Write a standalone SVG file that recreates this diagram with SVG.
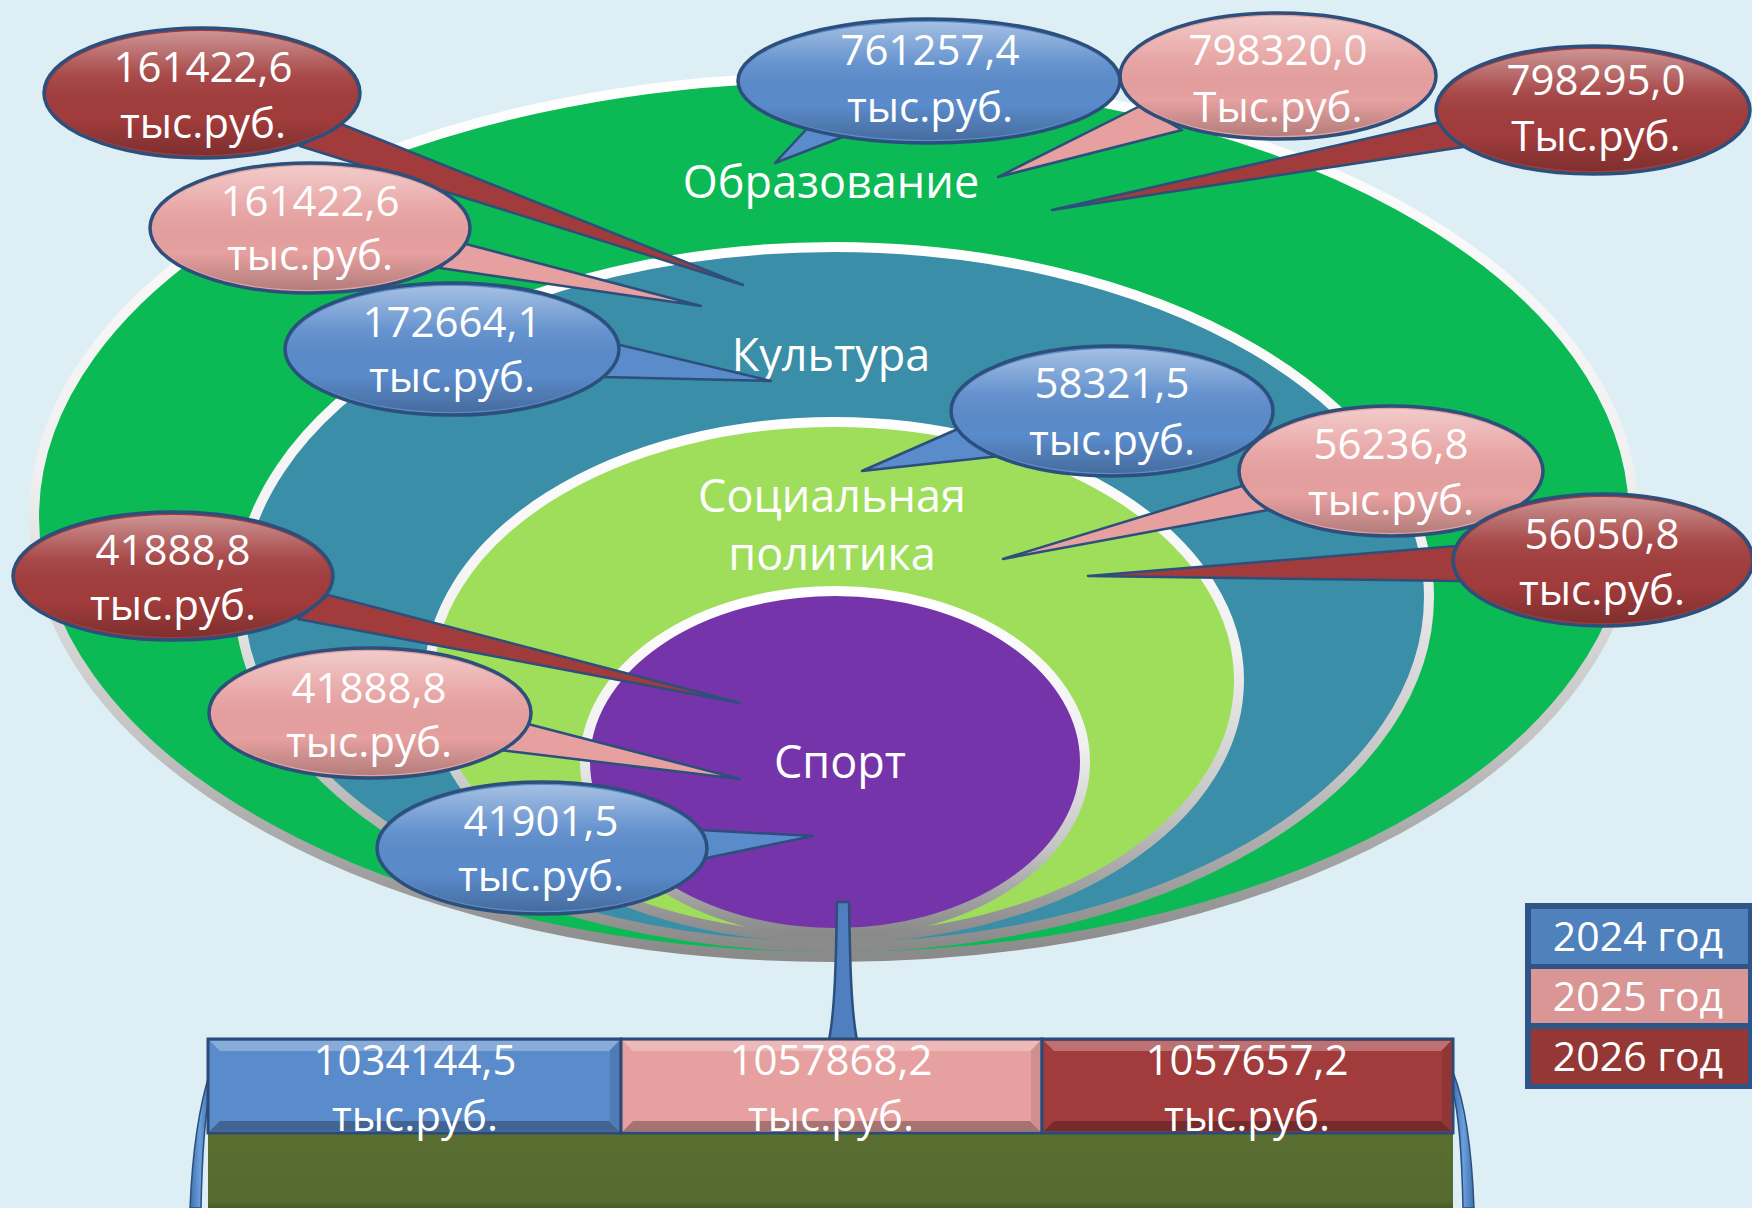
<svg xmlns="http://www.w3.org/2000/svg" width="1752" height="1208" viewBox="0 0 1752 1208">
<defs>
<style>
.t{font-family:"Open Sans","Noto Sans",sans-serif;fill:#ffffff;text-anchor:middle;font-size:42px}
.lbl{font-size:45px}
.leg{font-size:41px}
.rim{stroke:url(#rimg);stroke-width:10}
.bs{stroke:#2C4F7C;stroke-width:3.5}
.blue{fill:#5A8BCB}
.pink{fill:#E6A09F}
.red{fill:#A23C3C}
.tail{stroke:#2C4F7C;stroke-width:2.5;stroke-linejoin:round}
.hl{fill:url(#hlg)}
.box{stroke:#2B4A75;stroke-width:3}
.bevT{fill:#ffffff;fill-opacity:0.28}
.bevB{fill:#000000;fill-opacity:0.28}
.bevS{fill:#000000;fill-opacity:0.1}
</style>
<linearGradient id="rimg" x1="0" y1="0" x2="0" y2="1">
<stop offset="0" stop-color="#ffffff"/>
<stop offset="0.45" stop-color="#f0f0f0"/>
<stop offset="0.75" stop-color="#c4c4c4"/>
<stop offset="1" stop-color="#8a8a8a"/>
</linearGradient>
<linearGradient id="hlg" x1="0" y1="0" x2="0" y2="1">
<stop offset="0" stop-color="#ffffff" stop-opacity="0.45"/>
<stop offset="0.35" stop-color="#ffffff" stop-opacity="0.08"/>
<stop offset="0.7" stop-color="#000000" stop-opacity="0"/>
<stop offset="1" stop-color="#000000" stop-opacity="0.22"/>
</linearGradient>
<linearGradient id="oliveg" x1="0" y1="0" x2="0" y2="1">
<stop offset="0" stop-color="#5A6E32"/>
<stop offset="0.85" stop-color="#566A2F"/>
<stop offset="1" stop-color="#3E4E20"/>
</linearGradient>
<linearGradient id="sideg" x1="0" y1="0" x2="1" y2="0">
<stop offset="0" stop-color="#3F6FAE"/>
<stop offset="0.5" stop-color="#6A9EDC"/>
<stop offset="1" stop-color="#3F6FAE"/>
</linearGradient>
</defs>

<rect x="0" y="0" width="1752" height="1208" fill="#DDEEF4"/>

<g id="obrazovanie">
<ellipse cx="834" cy="517" rx="800" ry="440" fill="#0BB955" class="rim"/>
<text class="t lbl" x="831" y="198">Образование</text>
</g>
<g id="kultura">
<ellipse cx="834" cy="597" rx="595" ry="350" fill="#3A8EA7" class="rim"/>
<text class="t lbl" x="831" y="371">Культура</text>
</g>
<g id="socpolitika">
<ellipse cx="834" cy="680" rx="405" ry="258" fill="#9FDE5A" class="rim"/>
<text class="t lbl" x="832" y="512">Социальная</text>
<text class="t lbl" x="832" y="570">политика</text>
</g>
<g id="sport">
<ellipse cx="835" cy="762" rx="250" ry="171" fill="#7634AA" class="rim"/>
<text class="t lbl" x="840" y="778">Спорт</text>
</g>

<g id="connectors">
<polygon class="tail red" points="341,124 743,285 300,146"/>
<polygon class="tail pink" points="462,243 701,306 440,268"/>
<polygon class="tail blue" points="616,344 771,381 603,377"/>
<polygon class="tail blue" points="815,120 775,163 845,136"/>
<polygon class="tail pink" points="1140,106 998,177 1182,130"/>
<polygon class="tail red" points="1440,122 1052,210 1463,147"/>
<polygon class="tail blue" points="960,428 862,471 1000,456"/>
<polygon class="tail pink" points="1242,486 1003,559 1268,510"/>
<polygon class="tail red" points="1457,546 1088,576 1459,581"/>
<polygon class="tail red" points="328,595 740,703 298,619"/>
<polygon class="tail pink" points="528,724 740,779 500,750"/>
<polygon class="tail blue" points="700,830 813,836 697,860"/>
<path class="tail" fill="#4F7FBE" d="M837,902 L849,902 C850,960 851,1010 857,1040 L829,1040 C835,1010 836,960 837,902 Z"/>
</g>

<g id="b1">
<ellipse cx="202" cy="93" rx="158" ry="65" class="red bs"/>
<ellipse cx="202" cy="93" rx="155" ry="62" class="hl"/>
<text class="t" x="203" y="82">161422,6</text>
<text class="t" x="203" y="138">тыс.руб.</text>
</g>
<g id="b2">
<ellipse cx="310" cy="228" rx="160" ry="65" class="pink bs"/>
<ellipse cx="310" cy="228" rx="157" ry="62" class="hl"/>
<text class="t" x="310" y="216">161422,6</text>
<text class="t" x="310" y="270">тыс.руб.</text>
</g>
<g id="b3">
<ellipse cx="452" cy="349" rx="167" ry="66" class="blue bs"/>
<ellipse cx="452" cy="349" rx="164" ry="63" class="hl"/>
<text class="t" x="452" y="337">172664,1</text>
<text class="t" x="452" y="392">тыс.руб.</text>
</g>
<g id="b4">
<ellipse cx="929" cy="81" rx="191" ry="62" class="blue bs"/>
<ellipse cx="929" cy="81" rx="188" ry="59" class="hl"/>
<text class="t" x="930" y="65">761257,4</text>
<text class="t" x="930" y="122">тыс.руб.</text>
</g>
<g id="b5">
<ellipse cx="1278" cy="76" rx="158" ry="63" class="pink bs"/>
<ellipse cx="1278" cy="76" rx="155" ry="60" class="hl"/>
<text class="t" x="1278" y="65">798320,0</text>
<text class="t" x="1278" y="122">Тыс.руб.</text>
</g>
<g id="b6">
<ellipse cx="1593" cy="110" rx="157" ry="64" class="red bs"/>
<ellipse cx="1593" cy="110" rx="154" ry="61" class="hl"/>
<text class="t" x="1596" y="95">798295,0</text>
<text class="t" x="1596" y="151">Тыс.руб.</text>
</g>
<g id="b7">
<ellipse cx="1112" cy="411" rx="161" ry="65" class="blue bs"/>
<ellipse cx="1112" cy="411" rx="158" ry="62" class="hl"/>
<text class="t" x="1112" y="398">58321,5</text>
<text class="t" x="1112" y="455">тыс.руб.</text>
</g>
<g id="b8">
<ellipse cx="1391" cy="471" rx="152" ry="65" class="pink bs"/>
<ellipse cx="1391" cy="471" rx="149" ry="62" class="hl"/>
<text class="t" x="1391" y="459">56236,8</text>
<text class="t" x="1391" y="515">тыс.руб.</text>
</g>
<g id="b9">
<ellipse cx="1603" cy="560" rx="150" ry="66" class="red bs"/>
<ellipse cx="1603" cy="560" rx="147" ry="63" class="hl"/>
<text class="t" x="1602" y="549">56050,8</text>
<text class="t" x="1602" y="605">тыс.руб.</text>
</g>
<g id="b10">
<ellipse cx="173" cy="576" rx="160" ry="64" class="red bs"/>
<ellipse cx="173" cy="576" rx="157" ry="61" class="hl"/>
<text class="t" x="173" y="565">41888,8</text>
<text class="t" x="173" y="620">тыс.руб.</text>
</g>
<g id="b11">
<ellipse cx="370" cy="713" rx="161" ry="65" class="pink bs"/>
<ellipse cx="370" cy="713" rx="158" ry="62" class="hl"/>
<text class="t" x="369" y="703">41888,8</text>
<text class="t" x="369" y="757">тыс.руб.</text>
</g>
<g id="b12">
<ellipse cx="542" cy="848" rx="165" ry="66" class="blue bs"/>
<ellipse cx="542" cy="848" rx="162" ry="63" class="hl"/>
<text class="t" x="541" y="836">41901,5</text>
<text class="t" x="541" y="891">тыс.руб.</text>
</g>

<g id="base">
<path fill="url(#sideg)" stroke="#2C4F7C" stroke-width="1.5" d="M210,1072 C198,1110 192,1160 190,1208 L201,1208 C202,1160 205,1115 210,1092 Z"/>
<path fill="url(#sideg)" stroke="#2C4F7C" stroke-width="1.5" d="M1453,1072 C1466,1105 1472,1155 1474,1208 L1463,1208 C1462,1160 1459,1115 1453,1092 Z"/>
<rect x="208" y="1133" width="1245" height="80" fill="url(#oliveg)"/>
</g>

<g id="total2024">
<rect x="208" y="1039" width="413" height="94" class="box blue"/>
<polygon class="bevT" points="210,1041 619,1041 609,1051 220,1051"/>
<polygon class="bevB" points="210,1131 619,1131 609,1121 220,1121"/>
<polygon class="bevS" points="610,1051 619,1041 619,1131 610,1121"/>
<text class="t" x="415" y="1075">1034144,5</text>
<text class="t" x="415" y="1131">тыс.руб.</text>
</g>
<g id="total2025">
<rect x="621" y="1039" width="421" height="94" class="box pink"/>
<polygon class="bevT" points="623,1041 1040,1041 1030,1051 633,1051"/>
<polygon class="bevB" points="623,1131 1040,1131 1030,1121 633,1121"/>
<polygon class="bevS" points="1031,1051 1040,1041 1040,1131 1031,1121"/>
<text class="t" x="831" y="1075">1057868,2</text>
<text class="t" x="831" y="1131">тыс.руб.</text>
</g>
<g id="total2026">
<rect x="1042" y="1039" width="411" height="94" class="box red"/>
<polygon class="bevT" points="1044,1041 1451,1041 1441,1051 1054,1051"/>
<polygon class="bevB" points="1044,1131 1451,1131 1441,1121 1054,1121"/>
<polygon class="bevS" points="1442,1051 1451,1041 1451,1131 1442,1121"/>
<text class="t" x="1247" y="1075">1057657,2</text>
<text class="t" x="1247" y="1131">тыс.руб.</text>
</g>

<g id="legend">
<rect x="1525" y="903" width="227" height="186" fill="#2F5488"/>
<rect x="1531" y="909" width="217" height="55" fill="#4F81BD"/>
<rect x="1531" y="969" width="217" height="54" fill="#D99694"/>
<rect x="1531" y="1029" width="217" height="55" fill="#953735"/>
<text class="t leg" x="1638" y="951">2024 год</text>
<text class="t leg" x="1638" y="1011">2025 год</text>
<text class="t leg" x="1638" y="1071">2026 год</text>
</g>
</svg>
